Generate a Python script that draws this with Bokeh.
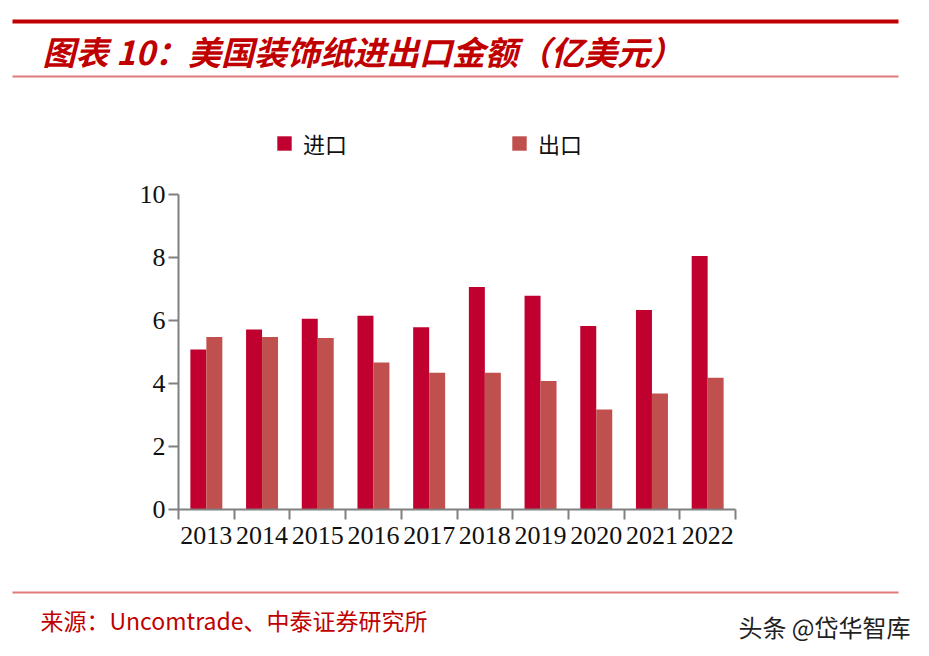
from bokeh.plotting import figure
from bokeh.models import Range1d, LinearAxis, FixedTicker, ColumnDataSource
from bokeh.layouts import column
from bokeh.core.properties import value
from bokeh.embed import file_html
from bokeh.resources import INLINE

# ---------------- data ----------------
years = ["2013", "2014", "2015", "2016", "2017", "2018", "2019", "2020", "2021", "2022"]
imports = [5.08, 5.71, 6.05, 6.15, 5.78, 7.06, 6.78, 5.82, 6.33, 8.04]
exports = [5.47, 5.47, 5.44, 4.66, 4.34, 4.34, 4.08, 3.17, 3.68, 4.18]
series_names = ["进口", "出口"]
y_ticks = [0, 2, 4, 6, 8, 10]
title_text = "图表 10：美国装饰纸进出口金额（亿美元）"
source_text = "来源：Uncomtrade、中泰证券研究所"
watermark_text = "头条 @岱华智库"

IMPORT_COLOR = "#C0002F"
EXPORT_COLOR = "#C0504D"
AXIS_COLOR = "#808080"
RED = "#C00000"
PINK = "#E07A7A"
W = 913
CJK = "Noto Sans CJK SC"
SERIF = "Liberation Serif"


def no_align(f):
    try:
        f.frame_align = False
    except Exception:
        pass


def blank_fig(h):
    f = figure(width=W, height=h, x_range=Range1d(0, W), y_range=Range1d(h, 0),
               x_axis_location=None, y_axis_location=None,
               toolbar_location=None, output_backend="svg", min_border=0)
    f.grid.visible = False
    f.outline_line_color = None
    no_align(f)
    return f


# ---------------- header ----------------
head = blank_fig(108)
head.segment(x0=[12], y0=[21], x1=[898], y1=[21], line_color=RED, line_width=4)
head.segment(x0=[12], y0=[76], x1=[898], y1=[76], line_color=PINK, line_width=2)
head.text(x=[42], y=[50], text=[title_text], text_color=RED,
          text_font=value(CJK), text_font_style="bold italic",
          text_font_size="33px", text_baseline="middle", text_align="left")

# ---------------- main chart ----------------
n = len(years)
centers = [i + 0.5 for i in range(n)]  # category slot centres
bw = 0.287
src = ColumnDataSource(dict(year=years, c=centers,
                            xi=[c - bw / 2 for c in centers],
                            xe=[c + bw / 2 for c in centers],
                            imp=imports, exp=exports))
p = figure(x_range=Range1d(0, n), y_range=Range1d(0, 12.5),
           frame_width=557, frame_height=394,
           min_border_left=178, min_border_right=178, min_border_top=7, min_border_bottom=71,
           x_axis_location=None, toolbar_location=None, output_backend="svg")
p.grid.visible = False
p.outline_line_color = None
no_align(p)

p.vbar(x="xi", top="imp", width=bw, source=src,
       fill_color=IMPORT_COLOR, line_color=None, legend_label=series_names[0])
p.vbar(x="xe", top="exp", width=bw, source=src,
       fill_color=EXPORT_COLOR, line_color=None, legend_label=series_names[1])

# y axis
ya = p.yaxis[0]
ya.ticker = FixedTicker(ticks=y_ticks)
ya.bounds = (0, 10)
ya.axis_line_color = AXIS_COLOR
ya.axis_line_width = 2
ya.major_tick_line_color = AXIS_COLOR
ya.major_tick_line_width = 2
ya.major_tick_out = 10
ya.major_tick_in = 0
ya.minor_tick_line_color = None
ya.major_label_text_font = SERIF
ya.major_label_text_font_size = "26px"
ya.major_label_text_color = "#111111"
ya.major_label_standoff = 3

# x axis: tick marks at category boundaries
edge_axis = LinearAxis(ticker=FixedTicker(ticks=list(range(n + 1))),
                       major_label_overrides={i: "" for i in range(n + 1)})
edge_axis.axis_line_color = AXIS_COLOR
edge_axis.axis_line_width = 2
edge_axis.major_tick_line_color = AXIS_COLOR
edge_axis.major_tick_line_width = 2
edge_axis.major_tick_out = 10
edge_axis.major_tick_in = 0
edge_axis.minor_tick_line_color = None
edge_axis.major_label_text_font_size = "0px"
edge_axis.major_label_standoff = 0
p.add_layout(edge_axis, "below")

# x axis: year labels at slot centres
cat_axis = LinearAxis(ticker=FixedTicker(ticks=centers),
                      major_label_overrides={c: y for c, y in zip(centers, years)})
cat_axis.axis_line_color = None
cat_axis.major_tick_line_color = None
cat_axis.minor_tick_line_color = None
cat_axis.major_tick_out = 0
cat_axis.major_tick_in = 0
cat_axis.major_label_text_font = SERIF
cat_axis.major_label_text_font_size = "26px"
cat_axis.major_label_text_color = "#111111"
cat_axis.major_label_standoff = 7
p.add_layout(cat_axis, "below")

# legend
lg = p.legend[0]
lg.orientation = "horizontal"
lg.location = (97, 350)
lg.border_line_color = None
lg.background_fill_alpha = 0
lg.padding = 0
lg.margin = 0
lg.spacing = 163
lg.glyph_width = 18
lg.glyph_height = 18
lg.label_standoff = 10
lg.label_text_font = CJK
lg.label_text_font_size = "22px"
lg.label_text_color = "#111111"

# ---------------- footer ----------------
foot = blank_fig(68)
foot.segment(x0=[12], y0=[12], x1=[898], y1=[12], line_color=PINK, line_width=2)
foot.text(x=[40], y=[39], text=[source_text], text_color=RED, text_font=value(CJK),
          text_font_size="23px", text_baseline="middle", text_align="left")
foot.text(x=[910], y=[46], text=[watermark_text], text_color="#222222", text_font=value(CJK),
          text_font_size="24px", text_baseline="middle", text_align="right")

layout = column(head, p, foot, spacing=0)
open("out.html", "w").write(file_html(layout, INLINE))
